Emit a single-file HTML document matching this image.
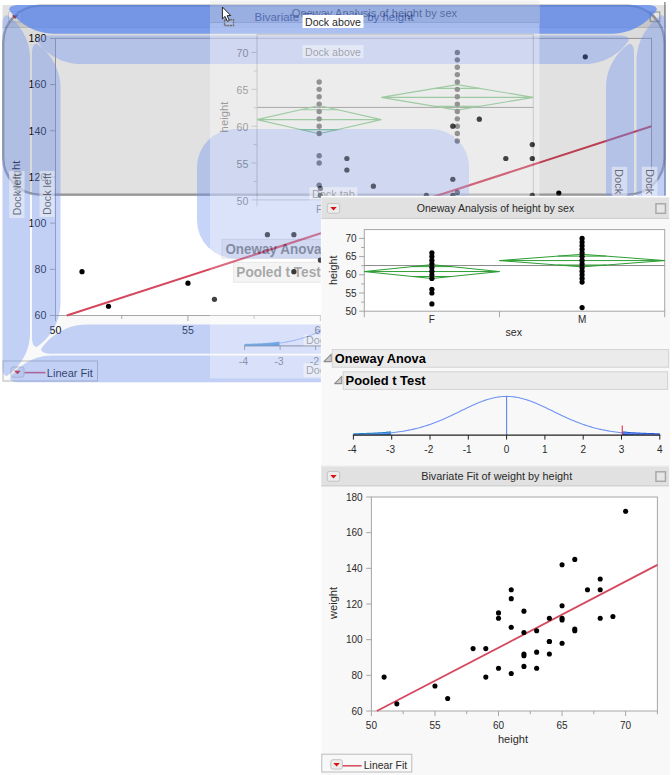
<!DOCTYPE html>
<html lang="en">
<head>
<meta charset="utf-8">
<title>JMP report docking</title>
<style>
html,body{margin:0;padding:0;background:#fff;}
body{width:672px;height:775px;overflow:hidden;position:relative;font-family:'Liberation Sans', sans-serif;}
#stage{position:absolute;left:0;top:0;width:672px;height:775px;overflow:hidden;background:#fff;}
svg text{font-family:'Liberation Sans', sans-serif;}
</style>
</head>
<body>
<div id="stage">
<svg width="672" height="392" viewBox="0 0 672 392" style="position:absolute;left:0;top:0" font-family="'Liberation Sans', sans-serif"><defs><clipPath id="gclip"><rect x="210" y="0.5" width="329.5" height="378.0"/></clipPath></defs><rect x="2.5" y="5" width="663.3" height="377.4" fill="#f9f9f9"/>
<rect x="2.5" y="5" width="663.3" height="22.5" fill="#e1e1e1"/>
<line x1="2.5" y1="27.5" x2="665.8" y2="27.5" stroke="#cfcfcf" stroke-width="1"/>
<rect x="8.5" y="11.5" width="13.5" height="10.5" rx="2" fill="#ececec" stroke="#c4c4c4" stroke-width="1"/><path d="M12.05 15.35 L18.45 15.35 L15.25 18.85 Z" fill="#d81010"/>
<rect x="650.25" y="11.95" width="9.5" height="9.5" fill="#e6e6e6" stroke="#a9a9a9" stroke-width="1.5"/>
<text x="334.1" y="20.6" font-size="11.3" text-anchor="middle" fill="#2a2a2a" textLength="159" lengthAdjust="spacingAndGlyphs">Bivariate Fit of weight by height</text>
<rect x="55.5" y="38.4" width="596" height="277.1" fill="#fff" stroke="#a6a6a6" stroke-width="1"/>
<line x1="49.99" y1="315.5" x2="55.5" y2="315.5" stroke="#a6a6a6" stroke-width="1"/>
<text x="46.3" y="319.32" font-size="10.6" text-anchor="end" fill="#080808">60</text>
<line x1="49.99" y1="269.32" x2="55.5" y2="269.32" stroke="#a6a6a6" stroke-width="1"/>
<text x="46.3" y="273.13" font-size="10.6" text-anchor="end" fill="#080808">80</text>
<line x1="49.99" y1="223.13" x2="55.5" y2="223.13" stroke="#a6a6a6" stroke-width="1"/>
<text x="46.3" y="226.95" font-size="10.6" text-anchor="end" fill="#080808">100</text>
<line x1="49.99" y1="176.95" x2="55.5" y2="176.95" stroke="#a6a6a6" stroke-width="1"/>
<text x="46.3" y="180.77" font-size="10.6" text-anchor="end" fill="#080808">120</text>
<line x1="49.99" y1="130.77" x2="55.5" y2="130.77" stroke="#a6a6a6" stroke-width="1"/>
<text x="46.3" y="134.58" font-size="10.6" text-anchor="end" fill="#080808">140</text>
<line x1="49.99" y1="84.58" x2="55.5" y2="84.58" stroke="#a6a6a6" stroke-width="1"/>
<text x="46.3" y="88.4" font-size="10.6" text-anchor="end" fill="#080808">160</text>
<line x1="49.99" y1="38.4" x2="55.5" y2="38.4" stroke="#a6a6a6" stroke-width="1"/>
<text x="46.3" y="42.22" font-size="10.6" text-anchor="end" fill="#080808">180</text>
<line x1="55.5" y1="315.5" x2="55.5" y2="321.01" stroke="#a6a6a6" stroke-width="1"/>
<text x="55.5" y="334" font-size="10.6" text-anchor="middle" fill="#080808">50</text>
<line x1="121.72" y1="315.5" x2="121.72" y2="318.92" stroke="#a6a6a6" stroke-width="1"/>
<line x1="187.94" y1="315.5" x2="187.94" y2="321.01" stroke="#a6a6a6" stroke-width="1"/>
<text x="187.94" y="334" font-size="10.6" text-anchor="middle" fill="#080808">55</text>
<line x1="254.17" y1="315.5" x2="254.17" y2="318.92" stroke="#a6a6a6" stroke-width="1"/>
<line x1="320.39" y1="315.5" x2="320.39" y2="321.01" stroke="#a6a6a6" stroke-width="1"/>
<text x="320.39" y="334" font-size="10.6" text-anchor="middle" fill="#080808">60</text>
<line x1="386.61" y1="315.5" x2="386.61" y2="318.92" stroke="#a6a6a6" stroke-width="1"/>
<line x1="452.83" y1="315.5" x2="452.83" y2="321.01" stroke="#a6a6a6" stroke-width="1"/>
<text x="452.83" y="334" font-size="10.6" text-anchor="middle" fill="#080808">65</text>
<line x1="519.06" y1="315.5" x2="519.06" y2="318.92" stroke="#a6a6a6" stroke-width="1"/>
<line x1="585.28" y1="315.5" x2="585.28" y2="321.01" stroke="#a6a6a6" stroke-width="1"/>
<text x="585.28" y="334" font-size="10.6" text-anchor="middle" fill="#080808">70</text>
<line x1="651.5" y1="315.5" x2="651.5" y2="318.92" stroke="#a6a6a6" stroke-width="1"/>
<line x1="66.76" y1="315.5" x2="651.5" y2="126.31" stroke="#d5475c" stroke-width="2.0" stroke-linecap="butt"/>
<g fill="#000"><circle cx="293.9" cy="234.68" r="2.6"/><circle cx="346.88" cy="170.02" r="2.6"/><circle cx="187.94" cy="283.17" r="2.6"/><circle cx="479.32" cy="119.22" r="2.6"/><circle cx="108.48" cy="306.26" r="2.6"/><circle cx="320.39" cy="260.08" r="2.6"/><circle cx="346.88" cy="158.48" r="2.6"/><circle cx="81.99" cy="271.63" r="2.6"/><circle cx="320.39" cy="195.42" r="2.6"/><circle cx="346.88" cy="206.97" r="2.6"/><circle cx="214.43" cy="299.34" r="2.6"/><circle cx="452.83" cy="227.75" r="2.6"/><circle cx="399.86" cy="211.59" r="2.6"/><circle cx="267.41" cy="234.68" r="2.6"/><circle cx="293.9" cy="271.63" r="2.6"/><circle cx="346.88" cy="267.01" r="2.6"/><circle cx="373.37" cy="243.92" r="2.6"/><circle cx="452.83" cy="126.15" r="2.6"/><circle cx="399.86" cy="260.08" r="2.6"/><circle cx="373.37" cy="257.77" r="2.6"/><circle cx="399.86" cy="239.3" r="2.6"/><circle cx="426.34" cy="225.44" r="2.6"/><circle cx="452.83" cy="179.26" r="2.6"/><circle cx="426.34" cy="241.61" r="2.6"/><circle cx="532.3" cy="195.42" r="2.6"/><circle cx="426.34" cy="225.44" r="2.6"/><circle cx="558.79" cy="193.11" r="2.6"/><circle cx="373.37" cy="241.61" r="2.6"/><circle cx="426.34" cy="195.42" r="2.6"/><circle cx="505.81" cy="158.48" r="2.6"/><circle cx="452.83" cy="197.73" r="2.6"/><circle cx="479.32" cy="211.59" r="2.6"/><circle cx="373.37" cy="213.9" r="2.6"/><circle cx="479.32" cy="209.28" r="2.6"/><circle cx="452.83" cy="195.42" r="2.6"/><circle cx="320.39" cy="188.5" r="2.6"/><circle cx="532.3" cy="158.48" r="2.6"/><circle cx="373.37" cy="186.19" r="2.6"/><circle cx="532.3" cy="144.62" r="2.6"/><circle cx="585.28" cy="56.87" r="2.6"/></g>
<text transform="translate(19.5 177) rotate(-90)" font-size="11.3" text-anchor="middle" fill="#080808">weight</text>
<text x="353.5" y="349" font-size="11.3" text-anchor="middle" fill="#2a2a2a">height</text>
<rect x="3" y="361" width="94.5" height="20" fill="#f9f9f9" stroke="#b9b9b9" stroke-width="1"/>
<rect x="11" y="367" width="13" height="10.2" rx="2" fill="#ececec" stroke="#c4c4c4" stroke-width="1"/><path d="M14.3 370.7 L20.7 370.7 L17.5 374.2 Z" fill="#d81010"/>
<line x1="24.5" y1="372.6" x2="45.5" y2="372.6" stroke="#d5475c" stroke-width="1.6"/>
<text x="46.8" y="376.6" font-size="11" fill="#080808" textLength="46" lengthAdjust="spacingAndGlyphs">Linear Fit</text>
<rect x="3.2" y="5.6" width="661.4" height="189.2" rx="37" ry="37" fill="rgba(0,0,0,0.118)" stroke="rgba(55,55,60,0.46)" stroke-width="2.4"/>
<line x1="664.9" y1="2" x2="664.9" y2="195.6" stroke="rgba(75,78,92,0.62)" stroke-width="1.5"/>
<path d="M9 9.61 Q9.51 5.31 17.2 5 L648.8 5 Q656.49 5.31 657 9.61 C649.83 20.38 634.45 33.7 611.9 33.7 L54.1 33.7 C31.55 33.7 16.18 20.38 9 9.61 Z" fill="rgba(84,132,240,0.72)"/>
<path d="M6.92 15 Q2.79 15.49 2.5 22.86 L2.5 368.14 Q2.79 375.51 6.92 376 C17.23 369.12 30 354.39 30 332.79 L30 58.21 C30 36.61 17.23 21.88 6.92 15 Z" fill="rgba(112,147,242,0.40)"/>
<path d="M661.26 15 Q665.68 15.53 666 23.43 L666 367.57 Q665.68 375.47 661.26 376 C650.2 368.62 636.5 352.82 636.5 329.64 L636.5 61.36 C636.5 38.18 650.2 22.38 661.26 15 Z" fill="rgba(112,147,242,0.40)"/>
<path d="M10 377.99 Q10.48 382.01 17.66 382.3 L650.84 382.3 Q658.02 382.01 658.5 377.99 C651.8 367.94 637.44 355.5 616.39 355.5 L52.11 355.5 C31.06 355.5 16.7 367.94 10 377.99 Z" fill="rgba(112,147,242,0.40)"/>
<path d="M36.4 40.16 Q36.91 35.9 44.51 35.6 L620.89 35.6 Q628.49 35.9 629 40.16 C621.9 50.81 606.69 64 584.37 64 L81.03 64 C58.71 64 43.5 50.81 36.4 40.16 Z" fill="rgba(112,147,242,0.40)"/>
<path d="M36.58 43.5 Q32.31 44.01 32 51.64 L32 338.86 Q32.31 346.49 36.58 347 C47.27 339.88 60.5 324.61 60.5 302.21 L60.5 88.29 C60.5 65.89 47.27 50.62 36.58 43.5 Z" fill="rgba(112,147,242,0.40)"/>
<path d="M629.5 43.5 Q633.7 44 634 51.5 L634 339 Q633.7 346.5 629.5 347 C619 340 606 325 606 303 L606 87.5 C606 65.5 619 50.5 629.5 43.5 Z" fill="rgba(112,147,242,0.40)"/>
<path d="M41 348.99 Q41.52 353.39 49.37 353.7 L619.13 353.7 Q626.98 353.39 627.5 348.99 C620.17 338 604.48 324.4 581.46 324.4 L87.04 324.4 C64.02 324.4 48.33 338 41 348.99 Z" fill="rgba(112,147,242,0.40)"/>
<rect x="197" y="129" width="272" height="129.5" rx="38" ry="38" fill="rgba(112,147,242,0.40)"/>
<g transform="translate(333 51.5) rotate(0)"><rect x="-30.5" y="-6.5" width="61" height="13" fill="rgba(240,242,248,0.55)"/><text x="0" y="4.06" font-size="11.6" text-anchor="middle" fill="rgba(55,58,70,0.72)" textLength="56" lengthAdjust="spacingAndGlyphs">Dock above</text></g>
<g transform="translate(16.8 194.5) rotate(-90)"><rect x="-23.5" y="-7.75" width="47" height="15.5" fill="rgba(240,242,248,0.55)"/><text x="0" y="4.06" font-size="11.6" text-anchor="middle" fill="rgba(55,58,70,0.72)" textLength="42" lengthAdjust="spacingAndGlyphs">Dock left</text></g>
<g transform="translate(47 194) rotate(-90)"><rect x="-23" y="-7.5" width="46" height="15" fill="rgba(240,242,248,0.55)"/><text x="0" y="4.06" font-size="11.6" text-anchor="middle" fill="rgba(55,58,70,0.72)" textLength="42" lengthAdjust="spacingAndGlyphs">Dock left</text></g>
<g transform="translate(619.5 194) rotate(90)"><rect x="-27.25" y="-7.75" width="54.5" height="15.5" fill="rgba(240,242,248,0.55)"/><text x="0" y="4.06" font-size="11.6" text-anchor="middle" fill="rgba(55,58,70,0.72)" textLength="50" lengthAdjust="spacingAndGlyphs">Dock right</text></g>
<g transform="translate(649.6 194) rotate(90)"><rect x="-27.25" y="-7.75" width="54.5" height="15.5" fill="rgba(240,242,248,0.55)"/><text x="0" y="4.06" font-size="11.6" text-anchor="middle" fill="rgba(55,58,70,0.72)" textLength="50" lengthAdjust="spacingAndGlyphs">Dock right</text></g>
<g transform="translate(333.4 193.9) rotate(0)"><rect x="-24" y="-6.7" width="48" height="13.4" fill="rgba(240,242,248,0.55)"/><text x="0" y="4.13" font-size="11.8" text-anchor="middle" fill="rgba(55,58,70,0.72)" textLength="43" lengthAdjust="spacingAndGlyphs">Dock tab</text></g>
<g transform="translate(334 340.3) rotate(0)"><rect x="-30.5" y="-5.75" width="61" height="11.5" fill="rgba(240,242,248,0.55)"/><text x="0" y="4.06" font-size="11.6" text-anchor="middle" fill="rgba(55,58,70,0.72)" textLength="56" lengthAdjust="spacingAndGlyphs">Dock below</text></g>
<g transform="translate(334 370.3) rotate(0)"><rect x="-30.5" y="-7" width="61" height="14" fill="rgba(240,242,248,0.55)"/><text x="0" y="4.06" font-size="11.6" text-anchor="middle" fill="rgba(55,58,70,0.72)" textLength="56" lengthAdjust="spacingAndGlyphs">Dock below</text></g>
<g opacity="0.37"><rect x="210" y="0.5" width="329.5" height="378.0" fill="#fff"/>
<rect x="210" y="0.5" width="329.5" height="22" fill="#dcdcdc"/>
<line x1="210" y1="22.5" x2="539.5" y2="22.5" stroke="#bdbdbd"/>
<text x="374.5" y="16.6" font-size="11.1" text-anchor="middle" fill="#222">Oneway Analysis of height by sex</text>
<rect x="257" y="34.4" width="276.3" height="165.5" fill="#fff" stroke="#a6a6a6" stroke-width="1"/>
<line x1="251.49" y1="199.9" x2="257" y2="199.9" stroke="#a6a6a6" stroke-width="1"/>
<text x="248.3" y="204.62" font-size="10.6" text-anchor="end" fill="#2a2a2a">50</text>
<line x1="253.69" y1="181.47" x2="257" y2="181.47" stroke="#a6a6a6" stroke-width="1"/>
<line x1="251.49" y1="163.05" x2="257" y2="163.05" stroke="#a6a6a6" stroke-width="1"/>
<text x="248.3" y="167.77" font-size="10.6" text-anchor="end" fill="#2a2a2a">55</text>
<line x1="253.69" y1="144.62" x2="257" y2="144.62" stroke="#a6a6a6" stroke-width="1"/>
<line x1="251.49" y1="126.2" x2="257" y2="126.2" stroke="#a6a6a6" stroke-width="1"/>
<text x="248.3" y="130.92" font-size="10.6" text-anchor="end" fill="#2a2a2a">60</text>
<line x1="253.69" y1="107.78" x2="257" y2="107.78" stroke="#a6a6a6" stroke-width="1"/>
<line x1="251.49" y1="89.35" x2="257" y2="89.35" stroke="#a6a6a6" stroke-width="1"/>
<text x="248.3" y="94.07" font-size="10.6" text-anchor="end" fill="#2a2a2a">65</text>
<line x1="253.69" y1="70.93" x2="257" y2="70.93" stroke="#a6a6a6" stroke-width="1"/>
<line x1="251.49" y1="52.5" x2="257" y2="52.5" stroke="#a6a6a6" stroke-width="1"/>
<text x="248.3" y="57.22" font-size="10.6" text-anchor="end" fill="#2a2a2a">70</text>
<line x1="257" y1="199.9" x2="257" y2="206.24" stroke="#a6a6a6" stroke-width="1"/>
<line x1="381.33" y1="199.9" x2="381.33" y2="206.24" stroke="#a6a6a6" stroke-width="1"/>
<line x1="533.3" y1="199.9" x2="533.3" y2="206.24" stroke="#a6a6a6" stroke-width="1"/>
<line x1="257" y1="107.41" x2="533.3" y2="107.41" stroke="#4a4a4a" stroke-width="1"/>
<path d="M257 119.64 L319.17 105.56 L381.33 119.64 L319.17 133.72 Z M257 119.64 L381.33 119.64" fill="none" stroke="#2fa83a" stroke-width="1.1"/>
<path d="M300.96 109.69 L337.38 109.69 M300.96 129.59 L337.38 129.59" fill="none" stroke="#2fa83a" stroke-width="1.1"/>
<path d="M381.33 97.38 L457.32 84.63 L533.3 97.38 L457.32 110.13 Z M381.33 97.38 L533.3 97.38" fill="none" stroke="#2fa83a" stroke-width="1.1"/>
<path d="M435.06 88.37 L479.57 88.37 M435.06 106.4 L479.57 106.4" fill="none" stroke="#2fa83a" stroke-width="1.1"/>
<g fill="#111"><circle cx="319.17" cy="185.16" r="2.7"/><circle cx="319.17" cy="163.05" r="2.7"/><circle cx="319.17" cy="155.68" r="2.7"/><circle cx="319.17" cy="133.57" r="2.7"/><circle cx="319.17" cy="126.2" r="2.7"/><circle cx="319.17" cy="118.83" r="2.7"/><circle cx="319.17" cy="111.46" r="2.7"/><circle cx="319.17" cy="104.09" r="2.7"/><circle cx="319.17" cy="96.72" r="2.7"/><circle cx="319.17" cy="89.35" r="2.7"/><circle cx="319.17" cy="81.98" r="2.7"/><circle cx="457.32" cy="192.53" r="2.7"/><circle cx="457.32" cy="140.94" r="2.7"/><circle cx="457.32" cy="133.57" r="2.7"/><circle cx="457.32" cy="126.2" r="2.7"/><circle cx="457.32" cy="118.83" r="2.7"/><circle cx="457.32" cy="111.46" r="2.7"/><circle cx="457.32" cy="104.09" r="2.7"/><circle cx="457.32" cy="96.72" r="2.7"/><circle cx="457.32" cy="89.35" r="2.7"/><circle cx="457.32" cy="81.98" r="2.7"/><circle cx="457.32" cy="74.61" r="2.7"/><circle cx="457.32" cy="67.24" r="2.7"/><circle cx="457.32" cy="59.87" r="2.7"/><circle cx="457.32" cy="52.5" r="2.7"/></g>
<text x="319.17" y="212.5" font-size="10.6" text-anchor="middle" fill="#2a2a2a">F</text>
<text x="457.32" y="212.5" font-size="10.6" text-anchor="middle" fill="#2a2a2a">M</text>
<text transform="translate(227.5 117) rotate(-90)" font-size="11.3" text-anchor="middle" fill="#222">height</text>
<text x="395" y="229" font-size="11.3" text-anchor="middle" fill="#222">sex</text>
<rect x="222" y="239.3" width="314" height="19" fill="#e2e2e2" stroke="#c4c4c4"/>
<text x="225.4" y="253.8" font-size="14" font-weight="700" fill="#111" textLength="96" lengthAdjust="spacingAndGlyphs">Oneway Anova</text>
<rect x="233.5" y="262.3" width="301.5" height="20" fill="#e2e2e2" stroke="#c4c4c4"/>
<text x="236.3" y="277.3" font-size="14" font-weight="700" fill="#111" textLength="84.5" lengthAdjust="spacingAndGlyphs">Pooled t Test</text>
<path d="M244.6 345.8 L244.6 343.89 L246.05 343.85 L247.5 343.81 L248.95 343.77 L250.4 343.72 L251.85 343.67 L253.3 343.62 L254.75 343.56 L256.2 343.5 L257.65 343.43 L259.1 343.36 L260.55 343.28 L262 343.2 L263.44 343.11 L264.89 343.01 L266.34 342.91 L267.79 342.79 L269.24 342.68 L270.69 342.55 L272.14 342.41 L273.59 342.27 L275.04 342.11 L276.49 341.95 L277.94 341.77 L279.39 341.58 L279.39 345.8 Z" fill="#1b82c6"/>
<path d="M493.81 345.8 L493.81 341.58 L495.26 341.77 L496.71 341.95 L498.16 342.11 L499.61 342.27 L501.06 342.41 L502.51 342.55 L503.96 342.68 L505.41 342.79 L506.86 342.91 L508.31 343.01 L509.76 343.11 L511.21 343.2 L512.65 343.28 L514.1 343.36 L515.55 343.43 L517 343.5 L518.45 343.56 L519.9 343.62 L521.35 343.67 L522.8 343.72 L524.25 343.77 L525.7 343.81 L527.15 343.85 L528.6 343.89 L528.6 345.8 Z" fill="#2458dc"/>
<path d="M244.6 345.39 L246.38 345.34 L248.15 345.29 L249.93 345.24 L251.7 345.18 L253.48 345.11 L255.25 345.04 L257.03 344.96 L258.8 344.87 L260.58 344.78 L262.35 344.68 L264.12 344.56 L265.9 344.44 L267.68 344.3 L269.45 344.16 L271.23 344 L273 343.83 L274.78 343.64 L276.55 343.44 L278.33 343.22 L280.1 342.98 L281.88 342.73 L283.65 342.46 L285.43 342.17 L287.2 341.85 L288.98 341.51 L290.75 341.15 L292.53 340.77 L294.3 340.36 L296.08 339.92 L297.85 339.46 L299.62 338.97 L301.4 338.45 L303.18 337.89 L304.95 337.31 L306.73 336.7 L308.5 336.05 L310.28 335.38 L312.05 334.67 L313.83 333.93 L315.6 333.15 L317.38 332.35 L319.15 331.51 L320.93 330.64 L322.7 329.74 L324.48 328.81 L326.25 327.86 L328.03 326.87 L329.8 325.87 L331.58 324.83 L333.35 323.78 L335.12 322.71 L336.9 321.63 L338.68 320.53 L340.45 319.42 L342.23 318.3 L344 317.19 L345.78 316.07 L347.55 314.96 L349.33 313.85 L351.1 312.76 L352.88 311.68 L354.65 310.63 L356.43 309.6 L358.2 308.6 L359.98 307.64 L361.75 306.71 L363.53 305.83 L365.3 304.99 L367.08 304.21 L368.85 303.47 L370.62 302.8 L372.4 302.19 L374.18 301.64 L375.95 301.16 L377.73 300.75 L379.5 300.41 L381.28 300.14 L383.05 299.95 L384.83 299.84 L386.6 299.8 L388.38 299.84 L390.15 299.95 L391.93 300.14 L393.7 300.41 L395.48 300.75 L397.25 301.16 L399.03 301.64 L400.8 302.19 L402.58 302.8 L404.35 303.47 L406.12 304.21 L407.9 304.99 L409.68 305.83 L411.45 306.71 L413.23 307.64 L415 308.6 L416.78 309.6 L418.55 310.63 L420.33 311.68 L422.1 312.76 L423.88 313.85 L425.65 314.96 L427.43 316.07 L429.2 317.19 L430.98 318.3 L432.75 319.42 L434.53 320.53 L436.3 321.63 L438.08 322.71 L439.85 323.78 L441.62 324.83 L443.4 325.87 L445.18 326.87 L446.95 327.86 L448.73 328.81 L450.5 329.74 L452.27 330.64 L454.05 331.51 L455.83 332.35 L457.6 333.15 L459.38 333.93 L461.15 334.67 L462.93 335.38 L464.7 336.05 L466.48 336.7 L468.25 337.31 L470.02 337.89 L471.8 338.45 L473.58 338.97 L475.35 339.46 L477.12 339.92 L478.9 340.36 L480.68 340.77 L482.45 341.15 L484.23 341.51 L486 341.85 L487.77 342.17 L489.55 342.46 L491.33 342.73 L493.1 342.98 L494.88 343.22 L496.65 343.44 L498.43 343.64 L500.2 343.83 L501.98 344 L503.75 344.16 L505.52 344.3 L507.3 344.44 L509.08 344.56 L510.85 344.68 L512.62 344.78 L514.4 344.87 L516.18 344.96 L517.95 345.04 L519.73 345.11 L521.5 345.18 L523.27 345.24 L525.05 345.29 L526.83 345.34 L528.6 345.39" fill="none" stroke="#6f93f2" stroke-width="1.1"/>
<line x1="386.6" y1="299.8" x2="386.6" y2="345.8" stroke="#5b84ee" stroke-width="1.1"/>
<line x1="493.81" y1="336.99" x2="493.81" y2="345.8" stroke="#e0304a" stroke-width="1.1"/>
<line x1="244.1" y1="345.8" x2="529.1" y2="345.8" stroke="#555" stroke-width="1.2"/>
<line x1="244.6" y1="345.8" x2="244.6" y2="349.97" stroke="#555" stroke-width="1"/>
<text x="243.4" y="364.8" font-size="10.6" text-anchor="middle" fill="#2a2a2a">-4</text>
<line x1="280.1" y1="345.8" x2="280.1" y2="349.97" stroke="#555" stroke-width="1"/>
<text x="278.9" y="364.8" font-size="10.6" text-anchor="middle" fill="#2a2a2a">-3</text>
<line x1="315.6" y1="345.8" x2="315.6" y2="349.97" stroke="#555" stroke-width="1"/>
<text x="314.4" y="364.8" font-size="10.6" text-anchor="middle" fill="#2a2a2a">-2</text>
<line x1="351.1" y1="345.8" x2="351.1" y2="349.97" stroke="#555" stroke-width="1"/>
<text x="349.9" y="364.8" font-size="10.6" text-anchor="middle" fill="#2a2a2a">-1</text>
<line x1="386.6" y1="345.8" x2="386.6" y2="349.97" stroke="#555" stroke-width="1"/>
<text x="386.6" y="364.8" font-size="10.6" text-anchor="middle" fill="#2a2a2a">0</text>
<line x1="422.1" y1="345.8" x2="422.1" y2="349.97" stroke="#555" stroke-width="1"/>
<text x="422.1" y="364.8" font-size="10.6" text-anchor="middle" fill="#2a2a2a">1</text>
<line x1="457.6" y1="345.8" x2="457.6" y2="349.97" stroke="#555" stroke-width="1"/>
<text x="457.6" y="364.8" font-size="10.6" text-anchor="middle" fill="#2a2a2a">2</text>
<line x1="493.1" y1="345.8" x2="493.1" y2="349.97" stroke="#555" stroke-width="1"/>
<text x="493.1" y="364.8" font-size="10.6" text-anchor="middle" fill="#2a2a2a">3</text>
<line x1="528.6" y1="345.8" x2="528.6" y2="349.97" stroke="#555" stroke-width="1"/>
<text x="528.6" y="364.8" font-size="10.6" text-anchor="middle" fill="#2a2a2a">4</text></g>
<path d="M244.6 345.8 L244.6 344.59 L246.34 344.55 L248.08 344.5 L249.82 344.44 L251.56 344.38 L253.3 344.32 L255.04 344.25 L256.78 344.17 L258.52 344.09 L260.26 344 L262 343.9 L263.73 343.79 L265.47 343.67 L267.21 343.54 L268.95 343.4 L270.69 343.25 L272.43 343.08 L274.17 342.91 L275.91 342.71 L277.65 342.51 L279.39 342.28 L279.39 345.8 Z" fill="#3a8fd8" opacity="0.45"/>
<g opacity="0.30" clip-path="url(#gclip)">
<g fill="#000"><circle cx="293.9" cy="234.68" r="2.6"/><circle cx="346.88" cy="170.02" r="2.6"/><circle cx="187.94" cy="283.17" r="2.6"/><circle cx="479.32" cy="119.22" r="2.6"/><circle cx="108.48" cy="306.26" r="2.6"/><circle cx="320.39" cy="260.08" r="2.6"/><circle cx="346.88" cy="158.48" r="2.6"/><circle cx="81.99" cy="271.63" r="2.6"/><circle cx="320.39" cy="195.42" r="2.6"/><circle cx="346.88" cy="206.97" r="2.6"/><circle cx="214.43" cy="299.34" r="2.6"/><circle cx="452.83" cy="227.75" r="2.6"/><circle cx="399.86" cy="211.59" r="2.6"/><circle cx="267.41" cy="234.68" r="2.6"/><circle cx="293.9" cy="271.63" r="2.6"/><circle cx="346.88" cy="267.01" r="2.6"/><circle cx="373.37" cy="243.92" r="2.6"/><circle cx="452.83" cy="126.15" r="2.6"/><circle cx="399.86" cy="260.08" r="2.6"/><circle cx="373.37" cy="257.77" r="2.6"/><circle cx="399.86" cy="239.3" r="2.6"/><circle cx="426.34" cy="225.44" r="2.6"/><circle cx="452.83" cy="179.26" r="2.6"/><circle cx="426.34" cy="241.61" r="2.6"/><circle cx="532.3" cy="195.42" r="2.6"/><circle cx="426.34" cy="225.44" r="2.6"/><circle cx="558.79" cy="193.11" r="2.6"/><circle cx="373.37" cy="241.61" r="2.6"/><circle cx="426.34" cy="195.42" r="2.6"/><circle cx="505.81" cy="158.48" r="2.6"/><circle cx="452.83" cy="197.73" r="2.6"/><circle cx="479.32" cy="211.59" r="2.6"/><circle cx="373.37" cy="213.9" r="2.6"/><circle cx="479.32" cy="209.28" r="2.6"/><circle cx="452.83" cy="195.42" r="2.6"/><circle cx="320.39" cy="188.5" r="2.6"/><circle cx="532.3" cy="158.48" r="2.6"/><circle cx="373.37" cy="186.19" r="2.6"/><circle cx="532.3" cy="144.62" r="2.6"/><circle cx="585.28" cy="56.87" r="2.6"/></g>
<line x1="66.76" y1="315.5" x2="651.5" y2="126.31" stroke="#c81e46" stroke-width="2"/>
</g>
<g opacity="0.42" clip-path="url(#gclip)"><text x="334.1" y="20.6" font-size="11.3" text-anchor="middle" fill="#1c3a9a" textLength="159" lengthAdjust="spacingAndGlyphs">Bivariate Fit of weight by height</text></g>
<rect x="302.5" y="15" width="61" height="13" fill="#ffffff"/>
<text x="333" y="25.6" font-size="11.6" text-anchor="middle" fill="#2a2a2a" textLength="56" lengthAdjust="spacingAndGlyphs">Dock above</text>
<rect x="224.5" y="19.7" width="9" height="5.8" fill="rgba(255,255,255,0.12)" stroke="#6e6e6e" stroke-width="1.35" stroke-dasharray="2.1 0.6"/>
<path d="M222.4 7.0 L222.4 18.9 L225.1 16.4 L227.3 21.4 L229.3 20.5 L227.2 15.7 L230.7 15.5 Z" fill="#fff" stroke="#111" stroke-width="0.9" stroke-linejoin="miter"/></svg>
<svg width="672" height="775" viewBox="0 0 672 775" style="position:absolute;left:0;top:0" font-family="'Liberation Sans', sans-serif"><rect x="320.9" y="195.9" width="351.1" height="580" fill="#fff"/>
<rect x="321.4" y="197" width="348.6" height="579" fill="#f8f8f8"/>
<rect x="321.3" y="197.2" width="347.7" height="21.7" fill="#e1e1e1"/>
<line x1="321.3" y1="197.7" x2="669" y2="197.7" stroke="#ededed"/>
<line x1="321.3" y1="218.4" x2="669" y2="218.4" stroke="#cdcdcd"/>
<rect x="327.3" y="203.45" width="12.4" height="9.8" rx="2" fill="#ececec" stroke="#c4c4c4" stroke-width="1"/><path d="M330.3 206.95 L336.7 206.95 L333.5 210.45 Z" fill="#d81010"/>
<rect x="655.95" y="203.8" width="9.5" height="9.5" fill="#e6e6e6" stroke="#a9a9a9" stroke-width="1.5"/>
<text x="495.5" y="212.05" font-size="10.9" text-anchor="middle" fill="#2b2b2b" textLength="157.5" lengthAdjust="spacingAndGlyphs">Oneway Analysis of height by sex</text>
<rect x="364.3" y="229.6" width="300.4" height="81.6" fill="#fff" stroke="#a6a6a6" stroke-width="1"/>
<line x1="359.1" y1="311.2" x2="364.3" y2="311.2" stroke="#a6a6a6" stroke-width="1"/>
<text x="356.6" y="314.8" font-size="10" text-anchor="end" fill="#2a2a2a">50</text>
<line x1="361.18" y1="302.1" x2="364.3" y2="302.1" stroke="#a6a6a6" stroke-width="1"/>
<line x1="359.1" y1="293" x2="364.3" y2="293" stroke="#a6a6a6" stroke-width="1"/>
<text x="356.6" y="296.6" font-size="10" text-anchor="end" fill="#2a2a2a">55</text>
<line x1="361.18" y1="283.9" x2="364.3" y2="283.9" stroke="#a6a6a6" stroke-width="1"/>
<line x1="359.1" y1="274.8" x2="364.3" y2="274.8" stroke="#a6a6a6" stroke-width="1"/>
<text x="356.6" y="278.4" font-size="10" text-anchor="end" fill="#2a2a2a">60</text>
<line x1="361.18" y1="265.7" x2="364.3" y2="265.7" stroke="#a6a6a6" stroke-width="1"/>
<line x1="359.1" y1="256.6" x2="364.3" y2="256.6" stroke="#a6a6a6" stroke-width="1"/>
<text x="356.6" y="260.2" font-size="10" text-anchor="end" fill="#2a2a2a">65</text>
<line x1="361.18" y1="247.5" x2="364.3" y2="247.5" stroke="#a6a6a6" stroke-width="1"/>
<line x1="359.1" y1="238.4" x2="364.3" y2="238.4" stroke="#a6a6a6" stroke-width="1"/>
<text x="356.6" y="242" font-size="10" text-anchor="end" fill="#2a2a2a">70</text>
<line x1="364.3" y1="311.2" x2="364.3" y2="317.18" stroke="#a6a6a6" stroke-width="1"/>
<line x1="499.48" y1="311.2" x2="499.48" y2="317.18" stroke="#a6a6a6" stroke-width="1"/>
<line x1="664.7" y1="311.2" x2="664.7" y2="317.18" stroke="#a6a6a6" stroke-width="1"/>
<line x1="364.3" y1="265.52" x2="664.7" y2="265.52" stroke="#8c8c8c" stroke-width="1"/>
<path d="M364.3 271.56 L431.89 264.61 L499.48 271.56 L431.89 278.51 Z M364.3 271.56 L499.48 271.56" fill="none" stroke="#2d9d33" stroke-width="1.0"/>
<path d="M412.09 266.64 L451.69 266.64 M412.09 276.48 L451.69 276.48" fill="none" stroke="#2d9d33" stroke-width="1.0"/>
<path d="M499.48 260.57 L582.09 254.27 L664.7 260.57 L582.09 266.86 Z M499.48 260.57 L664.7 260.57" fill="none" stroke="#2d9d33" stroke-width="1.0"/>
<path d="M557.89 256.11 L606.29 256.11 M557.89 265.02 L606.29 265.02" fill="none" stroke="#2d9d33" stroke-width="1.0"/>
<g fill="#000"><circle cx="431.89" cy="303.92" r="2.6"/><circle cx="431.89" cy="293" r="2.6"/><circle cx="431.89" cy="289.36" r="2.6"/><circle cx="431.89" cy="278.44" r="2.6"/><circle cx="431.89" cy="274.8" r="2.6"/><circle cx="431.89" cy="271.16" r="2.6"/><circle cx="431.89" cy="267.52" r="2.6"/><circle cx="431.89" cy="263.88" r="2.6"/><circle cx="431.89" cy="260.24" r="2.6"/><circle cx="431.89" cy="256.6" r="2.6"/><circle cx="431.89" cy="252.96" r="2.6"/><circle cx="582.09" cy="307.56" r="2.6"/><circle cx="582.09" cy="282.08" r="2.6"/><circle cx="582.09" cy="278.44" r="2.6"/><circle cx="582.09" cy="274.8" r="2.6"/><circle cx="582.09" cy="271.16" r="2.6"/><circle cx="582.09" cy="267.52" r="2.6"/><circle cx="582.09" cy="263.88" r="2.6"/><circle cx="582.09" cy="260.24" r="2.6"/><circle cx="582.09" cy="256.6" r="2.6"/><circle cx="582.09" cy="252.96" r="2.6"/><circle cx="582.09" cy="249.32" r="2.6"/><circle cx="582.09" cy="245.68" r="2.6"/><circle cx="582.09" cy="242.04" r="2.6"/><circle cx="582.09" cy="238.4" r="2.6"/></g>
<text x="431.89" y="323.2" font-size="10" text-anchor="middle" fill="#2a2a2a">F</text>
<text x="582.09" y="323.2" font-size="10" text-anchor="middle" fill="#2a2a2a">M</text>
<text transform="translate(337 270.3) rotate(-90)" font-size="10.6" text-anchor="middle" fill="#2a2a2a" textLength="29.5" lengthAdjust="spacingAndGlyphs">height</text>
<text x="513.8" y="336.4" font-size="10.6" text-anchor="middle" fill="#2a2a2a">sex</text>
<path d="M331.3 354.2 L331.3 361.6 L323.9 361.6 Z" fill="#cbcbcb" stroke="#8c8c8c" stroke-width="1.1" stroke-linejoin="round"/>
<rect x="332.3" y="349.6" width="336.3" height="17.6" fill="#ebebeb" stroke="#d2d2d2"/>
<text x="334.8" y="362.8" font-size="13" font-weight="700" fill="#000" textLength="91" lengthAdjust="spacingAndGlyphs">Oneway Anova</text>
<path d="M341.8 376.4 L341.8 383.6 L334.6 383.6 Z" fill="#cbcbcb" stroke="#8c8c8c" stroke-width="1.1" stroke-linejoin="round"/>
<rect x="343.2" y="371.8" width="324.4" height="17.6" fill="#ebebeb" stroke="#d2d2d2"/>
<text x="345.6" y="385" font-size="13" font-weight="700" fill="#000" textLength="80" lengthAdjust="spacingAndGlyphs">Pooled t Test</text>
<path d="M353.4 435.1 L353.4 433.25 L354.96 433.22 L356.53 433.19 L358.09 433.15 L359.66 433.12 L361.22 433.07 L362.78 433.03 L364.35 432.98 L365.91 432.93 L367.48 432.87 L369.04 432.81 L370.6 432.74 L372.17 432.67 L373.73 432.6 L375.29 432.51 L376.86 432.43 L378.42 432.33 L379.99 432.23 L381.55 432.13 L383.11 432.01 L384.68 431.89 L386.24 431.76 L387.81 431.62 L389.37 431.47 L390.93 431.31 L390.93 435.1 Z" fill="#1b82c6"/>
<path d="M622.27 435.1 L622.27 431.31 L623.83 431.47 L625.39 431.62 L626.96 431.76 L628.52 431.89 L630.09 432.01 L631.65 432.13 L633.21 432.23 L634.78 432.33 L636.34 432.43 L637.91 432.51 L639.47 432.6 L641.03 432.67 L642.6 432.74 L644.16 432.81 L645.72 432.87 L647.29 432.93 L648.85 432.98 L650.42 433.03 L651.98 433.07 L653.54 433.12 L655.11 433.15 L656.67 433.19 L658.24 433.22 L659.8 433.25 L659.8 435.1 Z" fill="#2458dc"/>
<path d="M353.4 434.75 L355.32 434.72 L357.23 434.68 L359.15 434.63 L361.06 434.58 L362.98 434.52 L364.89 434.46 L366.81 434.39 L368.72 434.32 L370.64 434.24 L372.55 434.15 L374.47 434.06 L376.38 433.95 L378.3 433.84 L380.21 433.72 L382.12 433.58 L384.04 433.44 L385.96 433.28 L387.87 433.11 L389.79 432.93 L391.7 432.73 L393.62 432.52 L395.53 432.29 L397.45 432.04 L399.36 431.78 L401.28 431.49 L403.19 431.19 L405.11 430.87 L407.02 430.52 L408.94 430.16 L410.85 429.77 L412.77 429.35 L414.68 428.91 L416.6 428.45 L418.51 427.96 L420.43 427.44 L422.34 426.9 L424.26 426.33 L426.17 425.74 L428.09 425.11 L430 424.46 L431.92 423.78 L433.83 423.08 L435.75 422.35 L437.66 421.59 L439.58 420.81 L441.49 420 L443.41 419.18 L445.32 418.33 L447.24 417.46 L449.15 416.58 L451.06 415.68 L452.98 414.76 L454.9 413.84 L456.81 412.91 L458.73 411.97 L460.64 411.03 L462.56 410.09 L464.47 409.15 L466.39 408.22 L468.3 407.3 L470.22 406.4 L472.13 405.51 L474.05 404.65 L475.96 403.81 L477.88 403 L479.79 402.22 L481.71 401.47 L483.62 400.77 L485.54 400.11 L487.45 399.49 L489.37 398.92 L491.28 398.41 L493.19 397.95 L495.11 397.54 L497.03 397.2 L498.94 396.91 L500.86 396.69 L502.77 396.53 L504.69 396.43 L506.6 396.4 L508.52 396.43 L510.43 396.53 L512.35 396.69 L514.26 396.91 L516.18 397.2 L518.09 397.54 L520 397.95 L521.92 398.41 L523.84 398.92 L525.75 399.49 L527.66 400.11 L529.58 400.77 L531.5 401.47 L533.41 402.22 L535.33 403 L537.24 403.81 L539.15 404.65 L541.07 405.51 L542.99 406.4 L544.9 407.3 L546.82 408.22 L548.73 409.15 L550.64 410.09 L552.56 411.03 L554.48 411.97 L556.39 412.91 L558.31 413.84 L560.22 414.76 L562.13 415.68 L564.05 416.58 L565.97 417.46 L567.88 418.33 L569.8 419.18 L571.71 420 L573.62 420.81 L575.54 421.59 L577.46 422.35 L579.37 423.08 L581.29 423.78 L583.2 424.46 L585.12 425.11 L587.03 425.74 L588.95 426.33 L590.86 426.9 L592.77 427.44 L594.69 427.96 L596.61 428.45 L598.52 428.91 L600.44 429.35 L602.35 429.77 L604.26 430.16 L606.18 430.52 L608.1 430.87 L610.01 431.19 L611.92 431.49 L613.84 431.78 L615.75 432.04 L617.67 432.29 L619.59 432.52 L621.5 432.73 L623.41 432.93 L625.33 433.11 L627.25 433.28 L629.16 433.44 L631.08 433.58 L632.99 433.72 L634.9 433.84 L636.82 433.95 L638.74 434.06 L640.65 434.15 L642.57 434.24 L644.48 434.32 L646.39 434.39 L648.31 434.46 L650.23 434.52 L652.14 434.58 L654.06 434.63 L655.97 434.68 L657.88 434.72 L659.8 434.75" fill="none" stroke="#6f93f2" stroke-width="1.1"/>
<line x1="506.6" y1="396.4" x2="506.6" y2="435.1" stroke="#5b84ee" stroke-width="1.1"/>
<line x1="622.27" y1="425.6" x2="622.27" y2="435.1" stroke="#e0304a" stroke-width="1.1"/>
<line x1="352.9" y1="435.1" x2="660.3" y2="435.1" stroke="#222" stroke-width="1.2"/>
<line x1="353.4" y1="435.1" x2="353.4" y2="439.6" stroke="#222" stroke-width="1"/>
<text x="352.2" y="453.3" font-size="10" text-anchor="middle" fill="#2a2a2a">-4</text>
<line x1="391.7" y1="435.1" x2="391.7" y2="439.6" stroke="#222" stroke-width="1"/>
<text x="390.5" y="453.3" font-size="10" text-anchor="middle" fill="#2a2a2a">-3</text>
<line x1="430" y1="435.1" x2="430" y2="439.6" stroke="#222" stroke-width="1"/>
<text x="428.8" y="453.3" font-size="10" text-anchor="middle" fill="#2a2a2a">-2</text>
<line x1="468.3" y1="435.1" x2="468.3" y2="439.6" stroke="#222" stroke-width="1"/>
<text x="467.1" y="453.3" font-size="10" text-anchor="middle" fill="#2a2a2a">-1</text>
<line x1="506.6" y1="435.1" x2="506.6" y2="439.6" stroke="#222" stroke-width="1"/>
<text x="506.6" y="453.3" font-size="10" text-anchor="middle" fill="#2a2a2a">0</text>
<line x1="544.9" y1="435.1" x2="544.9" y2="439.6" stroke="#222" stroke-width="1"/>
<text x="544.9" y="453.3" font-size="10" text-anchor="middle" fill="#2a2a2a">1</text>
<line x1="583.2" y1="435.1" x2="583.2" y2="439.6" stroke="#222" stroke-width="1"/>
<text x="583.2" y="453.3" font-size="10" text-anchor="middle" fill="#2a2a2a">2</text>
<line x1="621.5" y1="435.1" x2="621.5" y2="439.6" stroke="#222" stroke-width="1"/>
<text x="621.5" y="453.3" font-size="10" text-anchor="middle" fill="#2a2a2a">3</text>
<line x1="659.8" y1="435.1" x2="659.8" y2="439.6" stroke="#222" stroke-width="1"/>
<text x="659.8" y="453.3" font-size="10" text-anchor="middle" fill="#2a2a2a">4</text>
<rect x="321.3" y="465.8" width="347.7" height="20.5" fill="#e1e1e1"/>
<line x1="321.3" y1="466.3" x2="669" y2="466.3" stroke="#ededed"/>
<line x1="321.3" y1="485.8" x2="669" y2="485.8" stroke="#cdcdcd"/>
<rect x="327.3" y="471.45" width="12.4" height="9.8" rx="2" fill="#ececec" stroke="#c4c4c4" stroke-width="1"/><path d="M330.3 474.95 L336.7 474.95 L333.5 478.45 Z" fill="#d81010"/>
<rect x="655.95" y="471.8" width="9.5" height="9.5" fill="#e6e6e6" stroke="#a9a9a9" stroke-width="1.5"/>
<text x="496.7" y="480.05" font-size="10.9" text-anchor="middle" fill="#2b2b2b" textLength="151" lengthAdjust="spacingAndGlyphs">Bivariate Fit of weight by height</text>
<rect x="371.4" y="497" width="286" height="214" fill="#fff" stroke="#a6a6a6" stroke-width="1"/>
<line x1="366.2" y1="711" x2="371.4" y2="711" stroke="#a6a6a6" stroke-width="1"/>
<text x="362.6" y="714.6" font-size="10" text-anchor="end" fill="#2a2a2a">60</text>
<line x1="366.2" y1="675.33" x2="371.4" y2="675.33" stroke="#a6a6a6" stroke-width="1"/>
<text x="362.6" y="678.93" font-size="10" text-anchor="end" fill="#2a2a2a">80</text>
<line x1="366.2" y1="639.67" x2="371.4" y2="639.67" stroke="#a6a6a6" stroke-width="1"/>
<text x="362.6" y="643.27" font-size="10" text-anchor="end" fill="#2a2a2a">100</text>
<line x1="366.2" y1="604" x2="371.4" y2="604" stroke="#a6a6a6" stroke-width="1"/>
<text x="362.6" y="607.6" font-size="10" text-anchor="end" fill="#2a2a2a">120</text>
<line x1="366.2" y1="568.33" x2="371.4" y2="568.33" stroke="#a6a6a6" stroke-width="1"/>
<text x="362.6" y="571.93" font-size="10" text-anchor="end" fill="#2a2a2a">140</text>
<line x1="366.2" y1="532.67" x2="371.4" y2="532.67" stroke="#a6a6a6" stroke-width="1"/>
<text x="362.6" y="536.27" font-size="10" text-anchor="end" fill="#2a2a2a">160</text>
<line x1="366.2" y1="497" x2="371.4" y2="497" stroke="#a6a6a6" stroke-width="1"/>
<text x="362.6" y="500.6" font-size="10" text-anchor="end" fill="#2a2a2a">180</text>
<line x1="371.4" y1="711" x2="371.4" y2="716.2" stroke="#a6a6a6" stroke-width="1"/>
<text x="371.4" y="728.6" font-size="10" text-anchor="middle" fill="#2a2a2a">50</text>
<line x1="403.18" y1="711" x2="403.18" y2="714.22" stroke="#a6a6a6" stroke-width="1"/>
<line x1="434.96" y1="711" x2="434.96" y2="716.2" stroke="#a6a6a6" stroke-width="1"/>
<text x="434.96" y="728.6" font-size="10" text-anchor="middle" fill="#2a2a2a">55</text>
<line x1="466.73" y1="711" x2="466.73" y2="714.22" stroke="#a6a6a6" stroke-width="1"/>
<line x1="498.51" y1="711" x2="498.51" y2="716.2" stroke="#a6a6a6" stroke-width="1"/>
<text x="498.51" y="728.6" font-size="10" text-anchor="middle" fill="#2a2a2a">60</text>
<line x1="530.29" y1="711" x2="530.29" y2="714.22" stroke="#a6a6a6" stroke-width="1"/>
<line x1="562.07" y1="711" x2="562.07" y2="716.2" stroke="#a6a6a6" stroke-width="1"/>
<text x="562.07" y="728.6" font-size="10" text-anchor="middle" fill="#2a2a2a">65</text>
<line x1="593.84" y1="711" x2="593.84" y2="714.22" stroke="#a6a6a6" stroke-width="1"/>
<line x1="625.62" y1="711" x2="625.62" y2="716.2" stroke="#a6a6a6" stroke-width="1"/>
<text x="625.62" y="728.6" font-size="10" text-anchor="middle" fill="#2a2a2a">70</text>
<line x1="657.4" y1="711" x2="657.4" y2="714.22" stroke="#a6a6a6" stroke-width="1"/>
<line x1="376.8" y1="711" x2="657.4" y2="564.9" stroke="#d5475c" stroke-width="1.8" stroke-linecap="butt"/>
<g fill="#000"><circle cx="485.8" cy="648.58" r="2.55"/><circle cx="511.22" cy="598.65" r="2.55"/><circle cx="434.96" cy="686.03" r="2.55"/><circle cx="574.78" cy="559.42" r="2.55"/><circle cx="396.82" cy="703.87" r="2.55"/><circle cx="498.51" cy="668.2" r="2.55"/><circle cx="511.22" cy="589.73" r="2.55"/><circle cx="384.11" cy="677.12" r="2.55"/><circle cx="498.51" cy="618.27" r="2.55"/><circle cx="511.22" cy="627.18" r="2.55"/><circle cx="447.67" cy="698.52" r="2.55"/><circle cx="562.07" cy="643.23" r="2.55"/><circle cx="536.64" cy="630.75" r="2.55"/><circle cx="473.09" cy="648.58" r="2.55"/><circle cx="485.8" cy="677.12" r="2.55"/><circle cx="511.22" cy="673.55" r="2.55"/><circle cx="523.93" cy="655.72" r="2.55"/><circle cx="562.07" cy="564.77" r="2.55"/><circle cx="536.64" cy="668.2" r="2.55"/><circle cx="523.93" cy="666.42" r="2.55"/><circle cx="536.64" cy="652.15" r="2.55"/><circle cx="549.36" cy="641.45" r="2.55"/><circle cx="562.07" cy="605.78" r="2.55"/><circle cx="549.36" cy="653.93" r="2.55"/><circle cx="600.2" cy="618.27" r="2.55"/><circle cx="549.36" cy="641.45" r="2.55"/><circle cx="612.91" cy="616.48" r="2.55"/><circle cx="523.93" cy="653.93" r="2.55"/><circle cx="549.36" cy="618.27" r="2.55"/><circle cx="587.49" cy="589.73" r="2.55"/><circle cx="562.07" cy="620.05" r="2.55"/><circle cx="574.78" cy="630.75" r="2.55"/><circle cx="523.93" cy="632.53" r="2.55"/><circle cx="574.78" cy="628.97" r="2.55"/><circle cx="562.07" cy="618.27" r="2.55"/><circle cx="498.51" cy="612.92" r="2.55"/><circle cx="600.2" cy="589.73" r="2.55"/><circle cx="523.93" cy="611.13" r="2.55"/><circle cx="600.2" cy="579.03" r="2.55"/><circle cx="625.62" cy="511.27" r="2.55"/></g>
<text transform="translate(337.2 603) rotate(-90)" font-size="10.6" text-anchor="middle" fill="#2a2a2a" textLength="32" lengthAdjust="spacingAndGlyphs">weight</text>
<text x="513" y="743" font-size="10.6" text-anchor="middle" fill="#2a2a2a" textLength="30" lengthAdjust="spacingAndGlyphs">height</text>
<rect x="321.8" y="754.2" width="90" height="17.8" fill="#f8f8f8" stroke="#bdbdbd"/>
<rect x="330.8" y="759.7" width="11.6" height="9.4" rx="2" fill="#ececec" stroke="#c4c4c4" stroke-width="1"/><path d="M333.4 763 L339.8 763 L336.6 766.5 Z" fill="#d81010"/>
<line x1="342.6" y1="765.8" x2="361.6" y2="765.8" stroke="#d5475c" stroke-width="1.5"/>
<text x="363.8" y="769.4" font-size="10.6" fill="#2a2a2a" textLength="43.3" lengthAdjust="spacingAndGlyphs">Linear Fit</text></svg>
</div>
</body>
</html>
